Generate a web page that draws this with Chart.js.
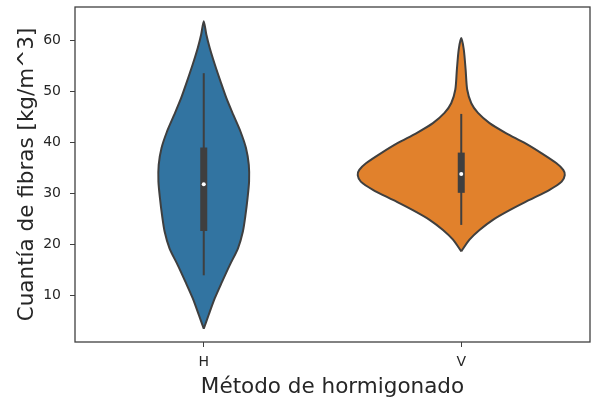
<!DOCTYPE html>
<html>
<head>
<meta charset="utf-8">
<script src="https://cdn.jsdelivr.net/npm/chart.js@4/dist/chart.umd.min.js"></script>
<style>
  body { margin: 0; background: #fff; }
</style>
</head>
<body>
<canvas id="violin" width="591" height="400"></canvas>
<script>
// categories and axis ticks
var categories = ['H', 'V'];
var yTickValues = [10, 20, 30, 40, 50, 60];

// density outline of each violin: y levels and half width (in category units)
var hLevels    = [3.4, 6.1, 9.4, 12.6, 15.9, 19.2, 22.5, 25.7, 29.0, 32.3, 35.6, 38.9, 42.1, 45.4, 48.7, 52.0, 55.3, 58.6, 61.2, 63.8];
var hHalfWidth = [0, 0.019, 0.043, 0.071, 0.101, 0.133, 0.152, 0.162, 0.170, 0.176, 0.175, 0.164, 0.143, 0.115, 0.088, 0.065, 0.043, 0.023, 0.010, 0];
var vLevels    = [18.6, 20.9, 22.8, 24.8, 26.7, 28.7, 30.7, 32.3, 33.6, 34.6, 35.9, 37.9, 39.9, 41.8, 43.8, 45.8, 47.7, 50.4, 54.3, 58.2, 60.5];
var vHalfWidth = [0, 0.032, 0.071, 0.123, 0.188, 0.265, 0.343, 0.390, 0.402, 0.396, 0.370, 0.311, 0.246, 0.175, 0.110, 0.065, 0.039, 0.023, 0.017, 0.010, 0];

// inner box stats per category
var whiskerLow  = [13.9, 23.8];
var q1          = [22.6, 30.1];
var medians     = [31.8, 33.8];
var q3          = [39.0, 38.0];
var whiskerHigh = [53.6, 45.6];

var fillColors = ['#3274A1', '#E1812C'];
var lineGray = '#3f3f3f';
var fontFamily = '"DejaVu Sans", sans-serif';

function outline(center, levels, widths) {
    var pts = [];
    for (var i = 0; i < levels.length; i++) {
        pts.push({x: center + widths[i], y: levels[i]});
    }
    for (var j = levels.length - 2; j >= 0; j--) {
        pts.push({x: center - widths[j], y: levels[j]});
    }
    return pts;
}

var profiles = [[hLevels, hHalfWidth], [vLevels, vHalfWidth]];
var datasets = [];

categories.forEach(function (cat, i) {
    datasets.push({
        label: cat,
        data: outline(i, profiles[i][0], profiles[i][1]),
        showLine: true,
        fill: 'shape',
        backgroundColor: fillColors[i],
        borderColor: lineGray,
        borderWidth: 2,
        tension: 0.25,
        pointRadius: 0,
        order: 4
    });
    datasets.push({
        data: [{x: i, y: whiskerLow[i]}, {x: i, y: whiskerHigh[i]}],
        showLine: true,
        borderColor: lineGray,
        borderWidth: 2,
        pointRadius: 0,
        order: 3
    });
    datasets.push({
        data: [{x: i, y: q1[i]}, {x: i, y: q3[i]}],
        showLine: true,
        borderColor: lineGray,
        borderWidth: 7,
        borderCapStyle: 'butt',
        pointRadius: 0,
        order: 2
    });
    datasets.push({
        data: [{x: i, y: medians[i]}],
        showLine: false,
        pointRadius: 2,
        pointBackgroundColor: '#ffffff',
        pointBorderWidth: 0,
        order: 1
    });
});

// plain frame round the plot area
var frame = {
    id: 'frame',
    afterDraw: function (chart) {
        var a = chart.chartArea, ctx = chart.ctx;
        ctx.save();
        ctx.strokeStyle = '#404040';
        ctx.lineWidth = 1.3;
        ctx.strokeRect(a.left, a.top, a.right - a.left, a.bottom - a.top);
        ctx.restore();
    }
};

var ctx = document.getElementById('violin').getContext('2d');
var chart = new Chart(ctx, {
    type: 'scatter',
    data: {datasets: datasets},
    options: {
        responsive: false,
        animation: false,
        layout: {autoPadding: false, padding: {top: 7, right: 1, left: 0, bottom: 0}},
        plugins: {legend: {display: false}, tooltip: {enabled: false}},
        scales: {
            x: {
                type: 'linear',
                min: -0.5,
                max: 1.5,
                afterBuildTicks: function (scale) {
                    scale.ticks = categories.map(function (c, i) { return {value: i}; });
                },
                afterFit: function (scale) {
                    scale.height = 58;
                    scale.paddingLeft = 0;
                    scale.paddingRight = 0;
                },
                ticks: {
                    callback: function (v) { return categories[v]; },
                    color: '#262626',
                    font: {family: fontFamily, size: 14},
                    padding: 7,
                    maxRotation: 0
                },
                grid: {drawOnChartArea: false, tickLength: 5, color: '#404040'},
                border: {display: false},
                title: {
                    display: true,
                    text: 'Método de hormigonado',
                    color: '#262626',
                    font: {family: fontFamily, size: 21.5},
                    padding: {top: 0, bottom: 0}
                }
            },
            y: {
                min: 0.8,
                max: 66.6,
                afterBuildTicks: function (scale) {
                    scale.ticks = yTickValues.map(function (v) { return {value: v}; });
                },
                afterFit: function (scale) {
                    scale.width = 75;
                    scale.paddingTop = 0;
                    scale.paddingBottom = 0;
                },
                ticks: {
                    color: '#262626',
                    font: {family: fontFamily, size: 14},
                    padding: 9
                },
                grid: {drawOnChartArea: false, tickLength: 5, color: '#404040'},
                border: {display: false},
                title: {
                    display: true,
                    text: 'Cuantía de fibras [kg/m^3]',
                    color: '#262626',
                    font: {family: fontFamily, size: 21.5},
                    padding: {top: 15, bottom: 0}
                }
            }
        }
    },
    plugins: [frame]
});
</script>
</body>
</html>
